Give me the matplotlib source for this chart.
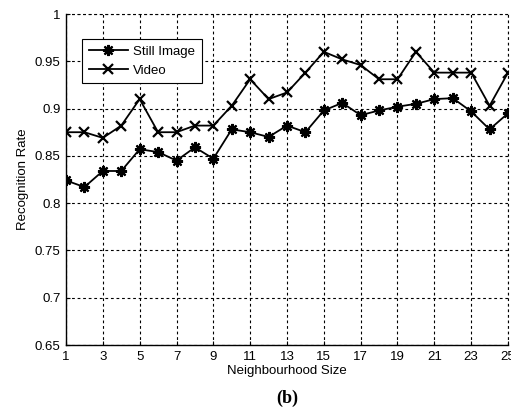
import numpy as np
import matplotlib
matplotlib.use('Agg')
import matplotlib.pyplot as plt

# neighbourhood size on x axis
sizes = list(range(1, 26))

# recognition rates
still_image = [0.824, 0.817, 0.834, 0.834, 0.857, 0.854, 0.845, 0.859, 0.847, 0.878,
               0.875, 0.870, 0.882, 0.875, 0.898, 0.906, 0.893, 0.898, 0.902, 0.905,
               0.910, 0.911, 0.897, 0.878, 0.895]
video = [0.875, 0.875, 0.869, 0.882, 0.910, 0.875, 0.875, 0.882, 0.882, 0.903,
         0.931, 0.910, 0.917, 0.938, 0.960, 0.952, 0.946, 0.931, 0.931, 0.960,
         0.938, 0.938, 0.938, 0.903, 0.938]

x_ticks = list(range(1, 26, 2))
y_ticks = [0.65, 0.7, 0.75, 0.8, 0.85, 0.9, 0.95, 1]
y_tick_labels = ['0.65', '0.7', '0.75', '0.8', '0.85', '0.9', '0.95', '1']

plt.rcParams['font.family'] = ['Liberation Sans', 'DejaVu Sans']
fs = 9.5

fig = plt.figure(figsize=(5.11, 4.11), dpi=100)
ax = fig.add_axes([66 / 511, 66 / 411, 442 / 511, 331 / 411])

ax.plot(sizes, still_image, color='black', lw=1.3, marker=(8, 2, 0),
        markersize=8, markeredgewidth=1.6, label='Still Image')
ax.plot(sizes, video, color='black', lw=1.3, marker='x',
        markersize=7, markeredgewidth=1.6, label='Video')

ax.set_xlim(1, 25)
ax.set_ylim(0.65, 1)
ax.set_xticks(x_ticks)
ax.set_yticks(y_ticks)
ax.set_yticklabels(y_tick_labels)
ax.tick_params(direction='in', length=3, width=0.8, labelsize=fs, pad=4)
ax.spines['top'].set_visible(False)
ax.spines['right'].set_visible(False)
ax.spines['left'].set_linewidth(1.0)
ax.spines['bottom'].set_linewidth(1.0)

ax.grid(True, color='black', linestyle=(0, (2.5, 2.5)), linewidth=0.8)
# top and right edges are drawn as grid lines in the original
ax.axhline(1, color='black', linestyle=(0, (2.5, 2.5)), linewidth=0.8, clip_on=False)
ax.axvline(25, color='black', linestyle=(0, (2.5, 2.5)), linewidth=0.8, clip_on=False)

ax.set_xlabel('Neighbourhood Size', fontsize=fs, labelpad=2)
ax.set_ylabel('Recognition Rate', fontsize=fs, labelpad=4)

leg = ax.legend(loc='upper left', bbox_to_anchor=(0.036, 0.9245), borderaxespad=0,
                fontsize=fs, fancybox=False, edgecolor='black', framealpha=1,
                handlelength=3.0, handletextpad=0.4, labelspacing=0.5,
                borderpad=0.5)
leg.get_frame().set_linewidth(0.8)

fig.text(287 / 511, 1 - 398 / 411, '(b)', ha='center', va='center',
         fontsize=13, fontweight='bold', family=['Liberation Serif', 'DejaVu Serif'])

fig.savefig('out.png', dpi=100)
